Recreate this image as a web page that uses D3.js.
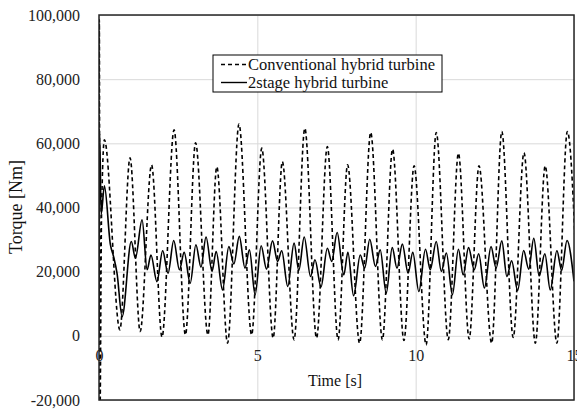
<!DOCTYPE html>
<html>
<head>
<meta charset="utf-8">
<script src="https://cdn.jsdelivr.net/npm/d3@7"></script>
<style>
  body { margin: 0; background: #fff; }
  svg { display: block; font-family: "Liberation Serif", "Times New Roman", serif; }
  .tick text { fill: #222; font-size: 16px; font-family: "Liberation Serif", "Times New Roman", serif; }
  .grid line { stroke: #d9d9d9; stroke-width: 1; }
  .grid .domain { display: none; }
</style>
</head>
<body>
<div id="chart"></div>
<script>
const yTicks = [-20000, 0, 20000, 40000, 60000, 80000, 100000];
const yTickLabels = ['-20,000', '0', '20,000', '40,000', '60,000', '80,000', '100,000'];
const xTicks = [0, 5, 10, 15];
const seriesNames = ['Conventional hybrid turbine', '2stage hybrid turbine'];

// conventional turbine: start spike, then peaks/troughs
const convTime = [
  0, 0.01, 0.03, 0.08, 0.17,
  0.66, 0.98, 1.30, 1.66, 1.99, 2.37, 2.73, 3.05, 3.44, 3.72,
  4.06, 4.42, 4.82, 5.14, 5.50, 5.79, 6.16, 6.50, 6.87, 7.21,
  7.55, 7.85, 8.23, 8.58, 8.95, 9.27, 9.63, 9.95, 10.33, 10.65,
  11.03, 11.35, 11.69, 12.00, 12.40, 12.72, 13.08, 13.42, 13.78, 14.09,
  14.46, 14.79, 15.15
];
const convTorque = [
  0, 98500, -25000, 38000, 61100,
  1900, 55500, 1350, 53300, -400, 64200, 300, 60200, 300, 52700,
  -2300, 66000, 300, 58500, -700, 54300, -1250, 64700, -700, 59000,
  -1250, 53300, -2300, 63400, -1250, 58200, -1450, 53000, -2800, 63400,
  -1200, 56900, -1000, 53000, -2300, 63700, -500, 57100, -2300, 53000,
  -2300, 63700, -1000
];

// 2stage turbine
const stageTime = [
  0, 0.02, 0.07, 0.17, 0.36, 0.46, 0.57, 0.73, 1.02, 1.15,
  1.36, 1.52, 1.64, 1.83, 2.01, 2.18, 2.36, 2.54, 2.69, 2.88,
  3.06, 3.22, 3.38, 3.57, 3.70, 3.90, 4.10, 4.26, 4.43, 4.61,
  4.75, 4.93, 5.12, 5.29, 5.48, 5.64, 5.77, 5.96, 6.16, 6.31,
  6.48, 6.68, 6.82, 7.01, 7.21, 7.35, 7.52, 7.73, 7.86, 8.04,
  8.25, 8.39, 8.55, 8.73, 8.88, 9.07, 9.26, 9.41, 9.58, 9.76,
  9.91, 10.10, 10.31, 10.46, 10.65, 10.81, 10.97, 11.16, 11.35, 11.50,
  11.67, 11.85, 11.99, 12.17, 12.38, 12.54, 12.72, 12.88, 13.03, 13.22,
  13.41, 13.57, 13.73, 13.90, 14.08, 14.25, 14.46, 14.61, 14.78, 15.00
];
const stageTorque = [
  0, 63000, 38000, 46750, 28400, 24700, 19500, 6000, 29400, 24200,
  36200, 20600, 25200, 16900, 26500, 19500, 29700, 20600, 26000, 16400,
  28400, 21400, 30800, 20100, 26300, 14300, 27800, 22400, 31000, 21100,
  26800, 12800, 28100, 20800, 29600, 23200, 26500, 15400, 28900, 20400,
  30800, 18500, 23700, 15200, 27300, 23200, 32200, 19000, 26000, 12500,
  25200, 21100, 30100, 21600, 26800, 13300, 27500, 21100, 28600, 19500,
  26000, 13800, 27000, 20600, 29400, 20100, 25800, 12800, 27000, 19000,
  27500, 20600, 25600, 14900, 27800, 21100, 29600, 18500, 23400, 14100,
  26600, 20800, 30400, 18700, 25600, 14300, 26500, 20400, 29700, 17000
];

class Chart {

  constructor(opts) {
    this.element = opts.element;
    this.draw();
  }

  draw() {
    this.width = 577;
    this.height = 414;
    this.margin = { top: 15, right: 3, bottom: 14, left: 99 };

    this.innerWidth = this.width - (this.margin.left + this.margin.right);
    this.innerHeight = this.height - (this.margin.top + this.margin.bottom);

    this.svg = d3.select(this.element).append('svg')
      .attr('width', this.width)
      .attr('height', this.height);

    this.plot = this.svg.append('g')
      .attr('transform', `translate(${this.margin.left},${this.margin.top})`);

    this.createScales();
    this.addAxes();
    this.addChart();
    this.addTitles();
    this.addLegend();
  }

  createScales() {
    this.xScale = d3.scaleLinear()
      .domain([0, 15])
      .range([0, this.innerWidth]);

    this.yScale = d3.scaleLinear()
      .domain([-20000, 100000])
      .range([this.innerHeight, 0]);
  }

  addAxes() {
    // gridlines
    this.plot.append('g')
      .attr('class', 'grid')
      .call(d3.axisLeft(this.yScale).tickValues(yTicks).tickSize(-this.innerWidth).tickFormat(''));

    this.plot.append('g')
      .attr('class', 'grid')
      .attr('transform', `translate(0,${this.innerHeight})`)
      .call(d3.axisBottom(this.xScale).tickValues(xTicks).tickSize(-this.innerHeight).tickFormat(''));

    // y labels
    const yAxis = this.plot.append('g')
      .call(d3.axisLeft(this.yScale)
        .tickValues(yTicks)
        .tickSize(0)
        .tickPadding(19)
        .tickFormat((d, i) => yTickLabels[i]));
    yAxis.select('.domain').remove();

    // x labels sit just under the zero line
    const xAxis = this.plot.append('g')
      .attr('transform', `translate(0,${this.yScale(0)})`)
      .call(d3.axisBottom(this.xScale)
        .tickValues(xTicks)
        .tickSize(0)
        .tickPadding(14)
        .tickFormat(d3.format('d')));
    xAxis.select('.domain').remove();
  }

  addChart() {
    this.plot.append('clipPath')
      .attr('id', 'clip')
      .append('rect')
      .attr('width', this.innerWidth)
      .attr('height', this.innerHeight);

    const line = d3.line()
      .x(d => this.xScale(d[0]))
      .y(d => this.yScale(d[1]))
      .curve(d3.curveMonotoneX);

    const lines = this.plot.append('g').attr('clip-path', 'url(#clip)');

    lines.append('path')
      .datum(d3.zip(stageTime, stageTorque))
      .attr('fill', 'none')
      .attr('stroke', '#000')
      .attr('stroke-width', 1.6)
      .attr('d', line);

    lines.append('path')
      .datum(d3.zip(convTime, convTorque))
      .attr('fill', 'none')
      .attr('stroke', '#000')
      .attr('stroke-width', 1.6)
      .attr('stroke-dasharray', '4,3')
      .attr('d', line);

    // plot frame
    this.plot.append('rect')
      .attr('width', this.innerWidth)
      .attr('height', this.innerHeight)
      .attr('fill', 'none')
      .attr('stroke', '#262626')
      .attr('stroke-width', 1.5);
  }

  addTitles() {
    this.svg.append('text')
      .attr('x', 335)
      .attr('y', 386)
      .attr('text-anchor', 'middle')
      .attr('font-size', 16)
      .attr('fill', '#111')
      .text('Time [s]');

    this.svg.append('text')
      .attr('transform', 'translate(22,207) rotate(-90)')
      .attr('text-anchor', 'middle')
      .attr('font-size', 18)
      .attr('fill', '#111')
      .text('Torque [Nm]');
  }

  addLegend() {
    const legend = this.svg.append('g')
      .attr('transform', 'translate(213,55)');

    legend.append('rect')
      .attr('width', 229)
      .attr('height', 37)
      .attr('fill', '#fff')
      .attr('stroke', '#000')
      .attr('stroke-width', 1);

    const rows = [
      { name: seriesNames[0], dash: '4,3', y: 9.5 },
      { name: seriesNames[1], dash: null, y: 27.5 }
    ];

    const row = legend.selectAll('g.row')
      .data(rows)
      .enter().append('g')
      .attr('class', 'row')
      .attr('transform', d => `translate(0,${d.y})`);

    row.append('line')
      .attr('x1', 8)
      .attr('x2', 34)
      .attr('stroke', '#000')
      .attr('stroke-width', 1.4)
      .attr('stroke-dasharray', d => d.dash);

    row.append('text')
      .attr('x', 35)
      .attr('dy', '0.33em')
      .attr('font-size', 16.5)
      .attr('fill', '#111')
      .text(d => d.name);
  }

}

new Chart({ element: '#chart' });
</script>
</body>
</html>
